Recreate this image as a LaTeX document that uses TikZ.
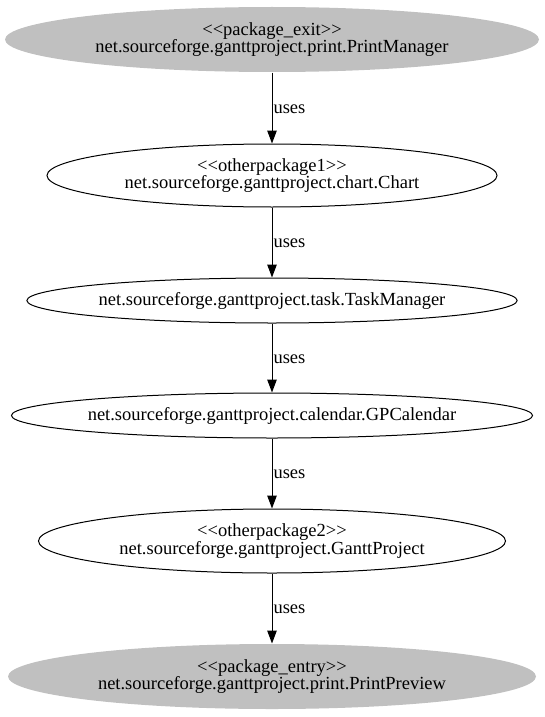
\documentclass[tikz,border=0pt]{standalone}
\usepackage{fontspec}
\setmainfont{Liberation Serif}[Ligatures=TeXOff]
\usetikzlibrary{shapes.geometric,arrows.meta}
\definecolor{pkggray}{RGB}{192,192,192}

\begin{document}
\begin{tikzpicture}[x=1pt,y=-1pt]
			\tikzset{every node/.style={font=\fontsize{18.5}{17.6}\selectfont}}
			\tikzset{pkg/.style={ellipse,draw=black,line width=1pt,inner sep=0pt,align=center}}
			\tikzset{pkg end/.style={pkg,draw=none,fill=pkggray}}
			\tikzset{uses edge/.style={-{Triangle[length=13pt,width=9.5pt]},line width=1pt}}
			\useasboundingbox (0,0) rectangle (544,717);
			\node[pkg end,minimum width=534pt,minimum height=65pt] (exit) at (272,39.5) {<<package\_exit>>\\net.sourceforge.ganttproject.print.PrintManager};
			\node[pkg,minimum width=450pt,minimum height=63pt] (chart) at (272,175.5) {<<otherpackage1>>\\net.sourceforge.ganttproject.chart.Chart};
			\node[pkg,minimum width=469pt,minimum height=45pt] (task) at (272,300.5) {net.sourceforge.ganttproject.task.TaskManager};
			\node[pkg,minimum width=498pt,minimum height=45pt] (calendar) at (272,415.5) {net.sourceforge.ganttproject.calendar.GPCalendar};
			\node[pkg,minimum width=467pt,minimum height=64pt] (gantt) at (272,541) {<<otherpackage2>>\\net.sourceforge.ganttproject.GanttProject};
			\node[pkg end,minimum width=528pt,minimum height=65pt] (entry) at (272,676.5) {<<package\_entry>>\\net.sourceforge.ganttproject.print.PrintPreview};
			\draw[uses edge] (exit) -- node[anchor=west,inner sep=1pt,yshift=-1pt]{uses} (chart);
			\draw[uses edge] (chart) -- node[anchor=west,inner sep=1pt,yshift=-1pt]{uses} (task);
			\draw[uses edge] (task) -- node[anchor=west,inner sep=1pt,yshift=-1pt]{uses} (calendar);
			\draw[uses edge] (calendar) -- node[anchor=west,inner sep=1pt,yshift=-1pt]{uses} (gantt);
			\draw[uses edge] (gantt) -- node[anchor=west,inner sep=1pt,yshift=-1pt]{uses} (entry);
		\end{tikzpicture}
\end{document}
